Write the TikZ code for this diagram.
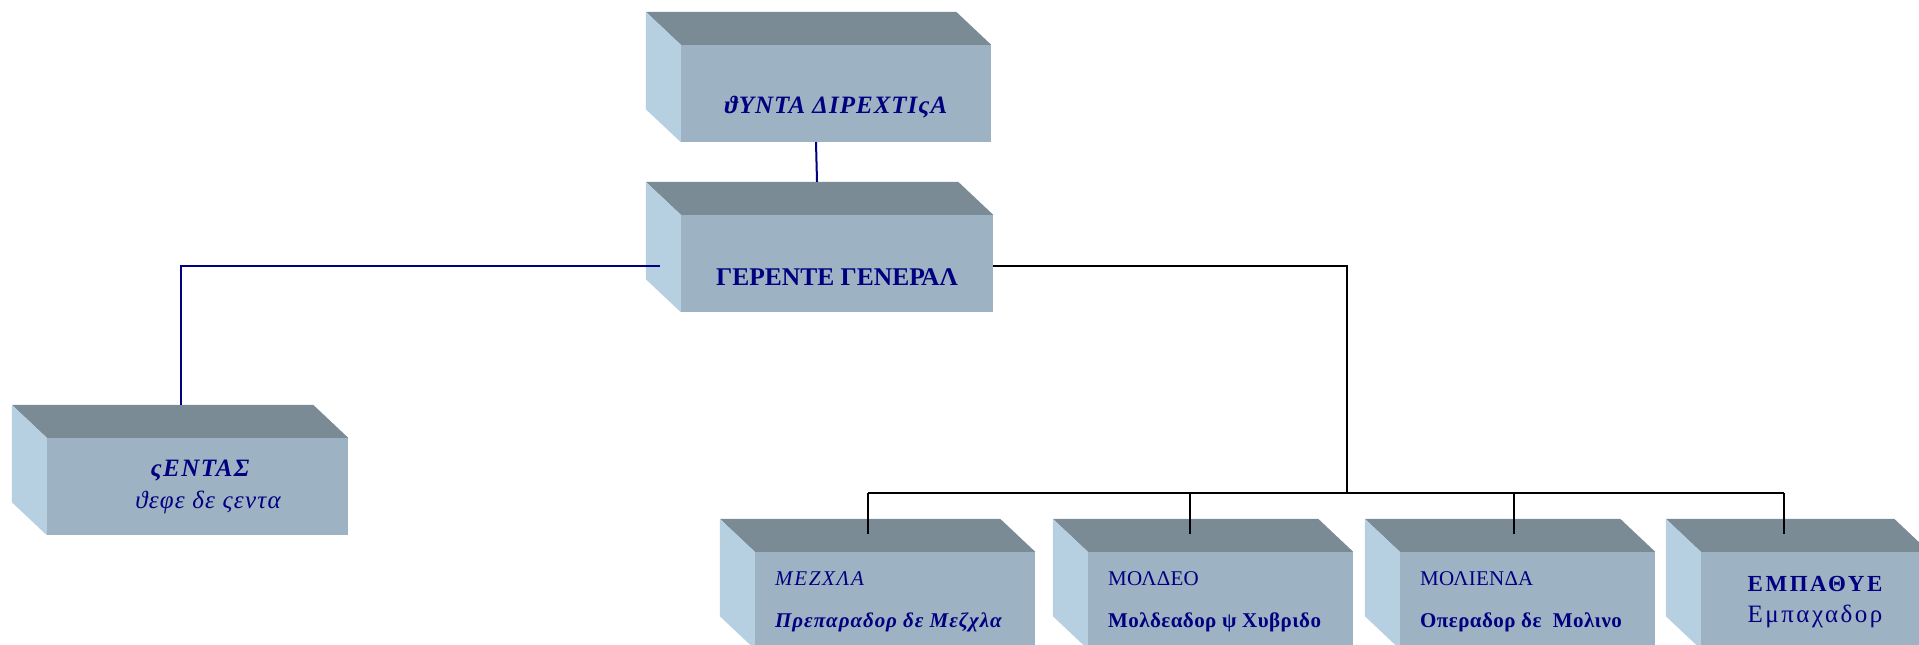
\documentclass[tikz,border=0pt]{standalone}
\usepackage{fontspec}
\setmainfont{Liberation Serif}
\usetikzlibrary{calc}

\definecolor{facefront}{RGB}{157,179,196}
\definecolor{facetop}{RGB}{122,139,150}
\definecolor{faceside}{RGB}{182,208,225}
\definecolor{ink}{RGB}{0,0,128}

\tikzset{
  front/.style={fill=facefront, inner sep=0pt, minimum height=97pt},
  navyline/.style={draw=ink, line width=2pt},
  blackline/.style={draw=black, line width=2pt},
  lbl/.style={text=ink, inner sep=0pt, anchor=base},
  lblw/.style={text=ink, inner sep=0pt, anchor=base west},
}

% font size with extra tracking: #1 size, #2 letter spacing
\newcommand\tsize[2]{\fontsize{#1}{#1}\selectfont\addfontfeature{LetterSpace=#2}}

% top and left faces of a slab whose front face is node #1
\newcommand\slabfaces[1]{%
  \fill[facetop] (#1.north west) -- ++(-35,-33) -- ($(#1.north east)+(-35,-33)$) -- (#1.north east) -- cycle;
  \fill[faceside] (#1.north west) -- ++(-35,-33) -- ($(#1.south west)+(-35,-33)$) -- (#1.south west) -- cycle;
}

\begin{document}
\begin{tikzpicture}[x=1pt, y=-1pt]
\useasboundingbox (0,0) rectangle (1919,645);
\clip (0,0) rectangle (1919,645);

% front faces
\node[front, minimum width=310pt] (junta)  at (836,93.5)   {};
\node[front, minimum width=312pt] (gerente) at (837,263.5) {};
\node[front, minimum width=301pt] (ventas) at (197.5,486.5) {};
\node[front, minimum width=280pt] (mezcla) at (895,600.5)   {};
\node[front, minimum width=265pt] (moldeo) at (1220.5,600.5) {};
\node[front, minimum width=255pt] (molienda) at (1527.5,600.5) {};
\node[front, minimum width=228pt] (empaque) at (1815,600.5) {};

\slabfaces{junta}
\slabfaces{gerente}
\slabfaces{ventas}
\slabfaces{mezcla}
\slabfaces{moldeo}
\slabfaces{molienda}
\slabfaces{empaque}

% labels
\node[lbl, font=\bfseries\itshape\tsize{25}{4}] (tjunta) at (836,113) {ϑΥΝΤΑ ΔΙΡΕΧΤΙςΑ};
\node[lbl, font=\bfseries\tsize{25.5}{0}] (tgerente) at (837,285) {ΓΕΡΕΝΤΕ ΓΕΝΕΡΑΛ};
\node[lbl, font=\bfseries\itshape\tsize{25}{6}] (tventas) at (200,476) {ςΕΝΤΑΣ};
\node[lbl, font=\itshape\tsize{25}{5}] (tventas2) at (208,508) {ϑεφε δε ςεντα};

\node[lblw, font=\itshape\tsize{21}{8}] (tmezcla) at (775,585) {ΜΕΖΧΛΑ};
\node[lblw, font=\bfseries\itshape\tsize{21}{4.5}] (tmezcla2) at (775,627) {Πρεπαραδορ δε Μεζχλα};
\node[lblw, font=\tsize{21}{1}] (tmoldeo) at (1108,585) {ΜΟΛΔΕΟ};
\node[lblw, font=\bfseries\tsize{21}{2}] (tmoldeo2) at (1108,627) {Μολδεαδορ ψ Χυβριδο};
\node[lblw, font=\tsize{21}{1}] (tmolienda) at (1420,585) {ΜΟΛΙΕΝΔΑ};
\node[lblw, font=\bfseries\tsize{21}{2}] (tmolienda2) at (1420,627) {Οπεραδορ δε\ \ Μολινο};
\node[lbl, font=\bfseries\tsize{23}{11}] (tempaque) at (1815,591) {ΕΜΠΑΘΥΕ};
\node[lbl, font=\tsize{25}{10}] (tempaque2) at (1815,622) {Εμπαχαδορ};

% connectors
\draw[navyline] ([xshift=-20pt]junta.south) -- ([xshift=-20pt,yshift=33pt]gerente.north);

\coordinate (lcorner) at (181,266);
\draw[navyline] ($(gerente.west)+(-21,2.5)$) -- (lcorner) -- (lcorner |- {$(ventas.north)+(0,-33)$});

\coordinate (rcorner) at (1347,266);
\coordinate (bus) at (1347,493);
\draw[blackline] ($(gerente.east)+(0,2.5)$) -- (rcorner) -- (bus);
\coordinate (bmezcla) at (868,493);
\coordinate (bempaque) at (1784,493);
\draw[blackline] (bmezcla) -- (bempaque);
\draw[blackline] (bmezcla) -- ++(0,41);
\draw[blackline] (1190,493) -- ++(0,41);
\draw[blackline] (1514,493) -- ++(0,41);
\draw[blackline] (bempaque) -- ++(0,41);
\end{tikzpicture}
\end{document}
